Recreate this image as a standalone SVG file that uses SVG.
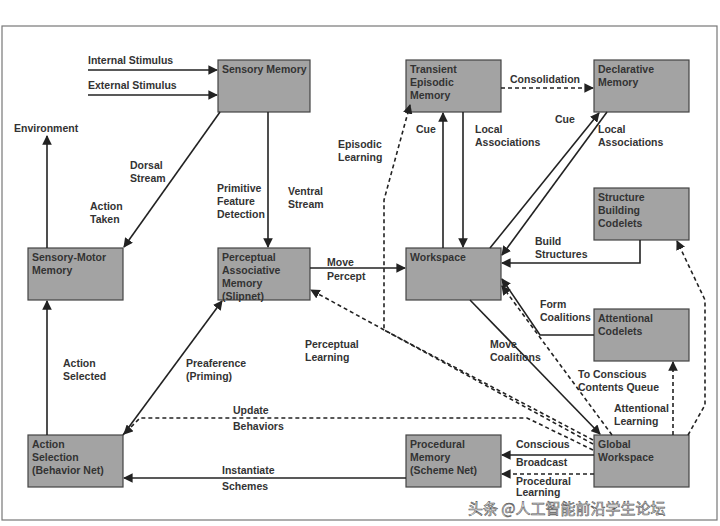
<svg xmlns="http://www.w3.org/2000/svg" width="720" height="526" viewBox="0 0 720 526">
<defs>
<style>
.n rect{fill:#a3a3a3;stroke:#444;stroke-width:1.2}
text{font-family:"Liberation Sans",Arial,sans-serif;font-size:10.5px;font-weight:bold;fill:#333}
.c path{fill:none;stroke:#222;stroke-width:1.6}
.c .d{stroke-dasharray:4,3}
</style>
<marker id="a" viewBox="0 0 10 10" refX="9" refY="5" markerWidth="6" markerHeight="6" orient="auto"><path d="M0,0L10,5L0,10z" fill="#222"/></marker>
</defs>
<rect x="0" y="0" width="720" height="526" fill="#fff"/>
<rect x="2" y="26" width="715" height="494" fill="none" stroke="#777" stroke-width="1.2"/>
<g id="n-sensory" class="n"><rect x="218" y="60" width="92" height="52"/><text x="222" y="73">Sensory Memory</text></g>
<g id="n-tem" class="n"><rect x="406" y="60" width="95" height="52"/><text x="410" y="73">Transient</text><text x="410" y="86">Episodic</text><text x="410" y="99">Memory</text></g>
<g id="n-decl" class="n"><rect x="594" y="60" width="95" height="52"/><text x="598" y="73">Declarative</text><text x="598" y="86">Memory</text></g>
<g id="n-sbc" class="n"><rect x="594" y="188" width="95" height="52"/><text x="598" y="201">Structure</text><text x="598" y="214">Building</text><text x="598" y="227">Codelets</text></g>
<g id="n-smm" class="n"><rect x="28" y="248" width="95" height="52"/><text x="32" y="261">Sensory-Motor</text><text x="32" y="274">Memory</text></g>
<g id="n-pam" class="n"><rect x="218" y="248" width="92" height="52"/><text x="222" y="261">Perceptual</text><text x="222" y="274">Associative</text><text x="222" y="287">Memory</text><text x="222" y="300">(Slipnet)</text></g>
<g id="n-ws" class="n"><rect x="406" y="248" width="95" height="52"/><text x="410" y="261">Workspace</text></g>
<g id="n-ac" class="n"><rect x="594" y="309" width="95" height="52"/><text x="598" y="322">Attentional</text><text x="598" y="335">Codelets</text></g>
<g id="n-as" class="n"><rect x="28" y="435" width="95" height="52"/><text x="32" y="448">Action</text><text x="32" y="461">Selection</text><text x="32" y="474">(Behavior Net)</text></g>
<g id="n-pm" class="n"><rect x="406" y="435" width="95" height="52"/><text x="410" y="448">Procedural</text><text x="410" y="461">Memory</text><text x="410" y="474">(Scheme Net)</text></g>
<g id="n-gw" class="n"><rect x="594" y="435" width="95" height="52"/><text x="598" y="448">Global</text><text x="598" y="461">Workspace</text></g>
<g id="connectors" class="c">
<path d="M88,70H217" marker-end="url(#a)"/>
<path d="M88,95H217" marker-end="url(#a)"/>
<path d="M220,112L124,247" marker-end="url(#a)"/>
<path d="M268,112V247" marker-end="url(#a)"/>
<path d="M47,248V136" marker-end="url(#a)"/>
<path d="M47,435V301" marker-end="url(#a)"/>
<path d="M123,435L222,301" marker-end="url(#a)"/>
<path d="M310,268H405" marker-end="url(#a)"/>
<path d="M443,248V113" marker-end="url(#a)"/>
<path d="M463,112V247" marker-end="url(#a)"/>
<path class="d" d="M501,88H593" marker-end="url(#a)"/>
<path d="M490,248L599,113" marker-end="url(#a)"/>
<path d="M607,112L502,255" marker-end="url(#a)"/>
<path d="M640,240V263H502" marker-end="url(#a)"/>
<path d="M594,335H540L502,279" marker-end="url(#a)"/>
<path d="M470,300L600,434" marker-end="url(#a)"/>
<path class="d" d="M612,435L502,286" marker-end="url(#a)"/>
<path class="d" d="M593,440L384,330V200L410,105" marker-end="url(#a)"/>
<path class="d" d="M593,444L311,290" marker-end="url(#a)"/>
<path class="d" d="M593,450L527,418H140L124,434" marker-end="url(#a)"/>
<path d="M594,455H502" stroke-width="4" marker-end="url(#a)"/>
<path class="d" d="M594,474H502" marker-end="url(#a)"/>
<path d="M406,478H124" marker-end="url(#a)"/>
<path class="d" d="M673,435V362" marker-end="url(#a)"/>
<path class="d" d="M688,435L705,405V300L677,241" marker-end="url(#a)"/>
</g>
<g id="labels">
<text x="88" y="64">Internal Stimulus</text>
<text x="88" y="89">External Stimulus</text>
<text x="14" y="132">Environment</text>
<text x="130" y="169">Dorsal</text><text x="130" y="182">Stream</text>
<text x="90" y="210">Action</text><text x="90" y="223">Taken</text>
<text x="217" y="192">Primitive</text><text x="217" y="205">Feature</text><text x="217" y="218">Detection</text>
<text x="288" y="195">Ventral</text><text x="288" y="208">Stream</text>
<text x="63" y="367">Action</text><text x="63" y="380">Selected</text>
<text x="186" y="367">Preaference</text><text x="186" y="380">(Priming)</text>
<text x="327" y="266">Move</text><text x="327" y="280">Percept</text>
<text x="416" y="133">Cue</text>
<text x="475" y="133">Local</text><text x="475" y="146">Associations</text>
<text x="510" y="83">Consolidation</text>
<text x="555" y="123">Cue</text>
<text x="598" y="133">Local</text><text x="598" y="146">Associations</text>
<text x="338" y="148">Episodic</text><text x="338" y="161">Learning</text>
<text x="535" y="245">Build</text><text x="535" y="258">Structures</text>
<text x="540" y="308">Form</text><text x="540" y="321">Coalitions</text>
<text x="305" y="348">Perceptual</text><text x="305" y="361">Learning</text>
<text x="490" y="348">Move</text><text x="490" y="361">Coalitions</text>
<text x="578" y="378">To Conscious</text><text x="578" y="391">Contents Queue</text>
<text x="614" y="412">Attentional</text><text x="614" y="425">Learning</text>
<text x="233" y="414">Update</text><text x="233" y="430">Behaviors</text>
<text x="516" y="448">Conscious</text><text x="516" y="466">Broadcast</text>
<text x="516" y="485">Procedural</text><text x="516" y="496">Learning</text>
<text x="222" y="474">Instantiate</text><text x="222" y="490">Schemes</text>
<text x="468" y="514" style="font-family:'Noto Sans CJK SC',sans-serif;font-size:15px;font-weight:normal;fill:#fff;stroke:#555;stroke-width:0.6">头条 @人工智能前沿学生论坛</text>
</g>
</svg>
